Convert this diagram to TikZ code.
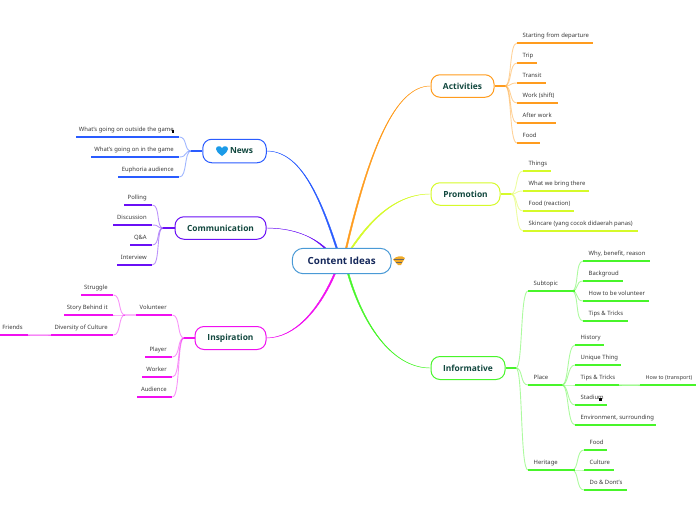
\documentclass[tikz,border=0pt]{standalone}
\usepackage{fontspec}
\setmainfont{Noto Sans}
\newfontfamily\topicfont{Open Sans}[BoldFont={Open Sans Bold}]
\definecolor{cnews}{HTML}{2A5CFF}
\definecolor{ccomm}{HTML}{6A10F5}
\definecolor{cinsp}{HTML}{F010F0}
\definecolor{cacti}{HTML}{FF9C1E}
\definecolor{cprom}{HTML}{D6FA2A}
\definecolor{cinfo}{HTML}{48F52A}
\definecolor{ctxt}{HTML}{3A3A3A}
\definecolor{ctopic}{HTML}{12483F}
\definecolor{croot}{HTML}{4A9AD6}
\definecolor{croottxt}{HTML}{14275A}
\definecolor{cheart}{HTML}{1C9BE8}
\definecolor{cgold}{HTML}{F0AA28}
\tikzset{
  topic/.style={draw=#1,line width=1pt,fill=white,rounded corners=9pt,inner sep=0pt,text=ctopic,font=\topicfont\fontsize{8.4}{10}\selectfont\bfseries},
  roottopic/.style={fill=white,rounded corners=11pt,minimum width=98.5pt,minimum height=25pt,inner sep=0pt,text=croottxt,font=\topicfont\fontsize{9.8}{12}\selectfont\bfseries},
  leafbox/.style={inner sep=0pt,minimum height=14.5pt,text=ctxt,font=\fontsize{5.9}{8}\selectfont},
  under/.style={draw=#1,line width=1.2pt},
  twig/.style={draw=#1,draw opacity=.45,line width=.9pt},
  stem/.style={draw=#1,line width=1.2pt},
  branch/.style={draw=#1,fill=#1,line width=.4pt,line join=round},
  fade/.style={draw=#1,draw opacity=.3,line width=1.2pt}
}
% \rleaf{name}{x1}{x2}{y}{colour}{hub}{text}
\newcommand{\rleaf}[7]{%
  \pgfmathsetlengthmacro{\leafw}{#3-#2}%
  \node[leafbox,anchor=south west,minimum width=\leafw] (#1) at (#2,#4) {\makebox[\leafw][l]{\hspace{5.5pt}\vphantom{Ág}#7}};
  \draw[under=#5] (#1.south west) -- (#1.south east);
  \draw[twig=#5] (#6) .. controls +(7,0) and +(-8,0) .. (#1.south west);
}
\newcommand{\lleaf}[7]{%
  \pgfmathsetlengthmacro{\leafw}{#3-#2}%
  \node[leafbox,anchor=south west,minimum width=\leafw] (#1) at (#2,#4) {\makebox[\leafw][r]{\vphantom{Ág}#7\hspace{5.5pt}}};
  \draw[under=#5] (#1.south west) -- (#1.south east);
  \draw[twig=#5] (#6) .. controls +(-7,0) and +(8,0) .. (#1.south east);
}
\begin{document}
\begin{tikzpicture}[x=1pt,y=-1pt]
\useasboundingbox (0,0) rectangle (696,520);

% central anchors
\coordinate (cN) at (337,249);
\coordinate (cA) at (346,249);
\coordinate (cP) at (351,249);
\coordinate (cC) at (326,249);
\coordinate (cI) at (335,273);
\coordinate (cF) at (348,273);

% topics
\node[topic=cnews,minimum width=63.5pt,minimum height=23.5pt] (news) at (234.5,151) {\hspace{14pt}News};
\node[topic=ccomm,minimum width=91pt,minimum height=22.5pt] (comm) at (220.5,228) {Communication};
\node[topic=cinsp,minimum width=71pt,minimum height=23pt] (insp) at (230.5,338) {Inspiration};
\node[topic=cacti,minimum width=63pt,minimum height=22.5pt] (acti) at (462.5,86) {Activities};
\node[topic=cprom,minimum width=69pt,minimum height=22.5pt] (prom) at (465.5,194) {Promotion};
\node[topic=cinfo,minimum width=74pt,minimum height=23pt] (info) at (468,368) {Informative};

% main branches, tapered towards the topics
\draw[branch=cnews] (news.east) .. controls (300,151) and (320,195) .. ([xshift=.8pt]cN) -- ([xshift=-.8pt]cN) .. controls (318.8,195) and (300,151.3) .. (news.east);
\draw[branch=ccomm] (comm.east) .. controls (290,228) and (312,235) .. ([xshift=.9pt]cC) -- ([xshift=-.3pt,yshift=-.8pt]cC) .. controls (311,233.8) and (290,228.3) .. (comm.east);
\draw[branch=cinsp] (insp.east) .. controls (295,338) and (320,310) .. ([xshift=.8pt]cI) -- ([xshift=-.8pt]cI) .. controls (318.8,309) and (295,337.7) .. (insp.east);
\draw[branch=cacti] (acti.west) .. controls (395,86) and (370,150) .. ([xshift=.8pt]cA) -- ([xshift=-.8pt]cA) .. controls (368.8,150) and (395,85.7) .. (acti.west);
\draw[branch=cprom] (prom.west) .. controls (395,194) and (370,222) .. ([xshift=.8pt]cP) -- ([xshift=-.8pt]cP) .. controls (368.8,221) and (395,193.7) .. (prom.west);
\draw[branch=cinfo] (info.west) .. controls (390,368) and (362,320) .. ([xshift=.8pt]cF) -- ([xshift=-.8pt]cF) .. controls (360.8,320) and (390,368.3) .. (info.west);

% central topic
\node[roottopic] (root) at (341.75,261) {Content Ideas};
\draw[draw=croot,line width=1pt,rounded corners=11pt] (root.south west) rectangle (root.north east);

% hubs
\coordinate (hnews) at (191,151);
\coordinate (hcomm) at (163,228);
\coordinate (hinsp) at (184,338);
\coordinate (hacti) at (505,86);
\coordinate (hprom) at (511,194);
\coordinate (hinfo) at (516,368);
\draw[stem=cnews] (news.west) -- (hnews);
\draw[stem=ccomm] (comm.west) -- (hcomm);
\draw[stem=cinsp] (insp.west) -- (hinsp);
\draw[stem=cacti] (acti.east) -- (hacti);
\draw[stem=cprom] (prom.east) -- (hprom);
\draw[stem=cinfo] (info.east) -- (hinfo);

% News
\lleaf{n1}{76}{179}{137}{cnews}{hnews}{What's going on outside the game}
\lleaf{n2}{91}{179}{157}{cnews}{hnews}{What's going on in the game}
\lleaf{n3}{118}{179}{177}{cnews}{hnews}{Euphoria audience}
% Communication
\lleaf{c1}{124}{152}{205}{ccomm}{hcomm}{Polling}
\lleaf{c2}{113}{152}{225}{ccomm}{hcomm}{Discussion}
\lleaf{c3}{130}{152}{245}{ccomm}{hcomm}{Q\&A}
\lleaf{c4}{117}{152}{265}{ccomm}{hcomm}{Interview}
% Inspiration
\lleaf{i1}{136}{172}{315}{cinsp}{hinsp}{Volunteer}
\lleaf{i2}{145}{172}{357}{cinsp}{hinsp}{Player}
\lleaf{i3}{142}{172}{377}{cinsp}{hinsp}{Worker}
\lleaf{i4}{137}{172}{397}{cinsp}{hinsp}{Audience}
\coordinate (hvol) at (125,315);
\draw[fade=cinsp] (i1.south west) -- (hvol);
\lleaf{v1}{81}{113}{295}{cinsp}{hvol}{Struggle}
\lleaf{v2}{64}{113}{315}{cinsp}{hvol}{Story Behind it}
\lleaf{v3}{51}{113}{335}{cinsp}{hvol}{Diversity of Culture}
\lleaf{v4}{0}{28}{335}{cinsp}{v3.south west}{Friends}
\draw[fade=cinsp] (v4.south east) -- (v3.south west);
% Activities
\rleaf{a1}{517}{593}{43}{cacti}{hacti}{Starting from departure}
\rleaf{a2}{517}{537}{63}{cacti}{hacti}{Trip}
\rleaf{a3}{517}{545.5}{83}{cacti}{hacti}{Transit}
\rleaf{a4}{517}{558}{103}{cacti}{hacti}{Work (shift)}
\rleaf{a5}{517}{555.5}{123}{cacti}{hacti}{After work}
\rleaf{a6}{517}{540}{143}{cacti}{hacti}{Food}
% Promotion
\rleaf{p1}{523}{551}{171}{cprom}{hprom}{Things}
\rleaf{p2}{523}{589}{191}{cprom}{hprom}{What we bring there}
\rleaf{p3}{523}{574}{211}{cprom}{hprom}{Food (reaction)}
\rleaf{p4}{523}{638}{231}{cprom}{hprom}{Skincare (yang cocok didaerah panas)}
% Informative
\rleaf{f1}{528}{575}{291}{cinfo}{hinfo}{Subtopic}
\rleaf{f2}{528}{562}{385}{cinfo}{hinfo}{Place}
\rleaf{f3}{528}{575}{470}{cinfo}{hinfo}{Heritage}
\coordinate (hsub) at (572,291);
\coordinate (hpla) at (562,385);
\coordinate (hher) at (572,470);
\rleaf{s1}{583}{650}{261}{cinfo}{hsub}{Why, benefit, reason}
\rleaf{s2}{583}{623}{281}{cinfo}{hsub}{Backgroud}
\rleaf{s3}{583}{649}{301}{cinfo}{hsub}{How to be volunteer}
\rleaf{s4}{583}{628}{321}{cinfo}{hsub}{Tips \& Tricks}
\rleaf{l1}{575}{604}{345}{cinfo}{hpla}{History}
\rleaf{l2}{575}{621}{365}{cinfo}{hpla}{Unique Thing}
\rleaf{l3}{575}{619}{385}{cinfo}{hpla}{Tips \& Tricks}
\rleaf{l4}{575}{607}{405}{cinfo}{hpla}{Stadium}
\rleaf{l5}{575}{656}{425}{cinfo}{hpla}{Environment, surrounding}
\rleaf{t1}{640}{696}{385}{cinfo}{l3.south east}{\fontsize{5.4}{8}\selectfont How to (transport)}
\draw[fade=cinfo] (l3.south east) -- (t1.south west);
\rleaf{e1}{584}{607}{450}{cinfo}{hher}{Food}
\rleaf{e2}{584}{614}{470}{cinfo}{hher}{Culture}
\rleaf{e3}{584}{627}{490}{cinfo}{hher}{Do \& Dont's}
% small marks after two texts
\fill[black] (171.5,129.5) rectangle (174,132.5);
\fill[black] (599,397.5) rectangle (601.5,400.5);
% heart
\fill[cheart] (222,156) .. controls (218,153) and (216,151) .. (216,149) .. controls (216,146) and (220,145) .. (222,148) .. controls (224,145) and (228,146) .. (228,149) .. controls (228,151) and (226,153) .. (222,156) -- cycle;
% icon next to the central topic
\fill[cgold] (393,259.5) .. controls (396,256) and (402,255) .. (405,258) -- (401,265) -- (398,265) -- cycle;
\draw[black!60,line width=.7pt] (394,259.5) -- (404,259.5) (396,262) -- (402,262);
\end{tikzpicture}
\end{document}
